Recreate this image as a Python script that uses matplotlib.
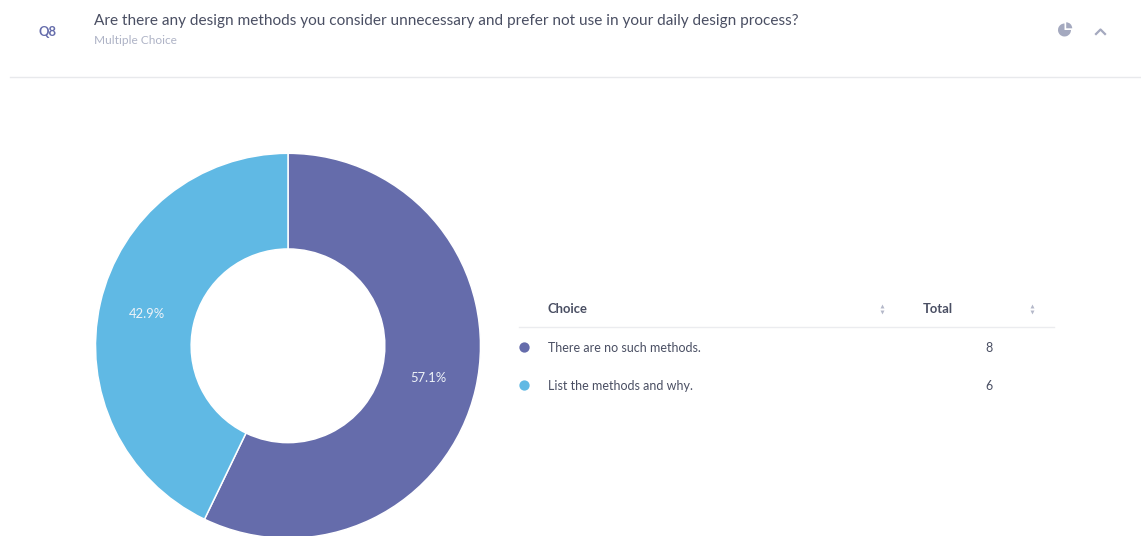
import matplotlib
matplotlib.use("Agg")
import matplotlib.pyplot as plt
from matplotlib.patches import Wedge

plt.rcParams['font.family'] = ['Lato', 'DejaVu Sans']

# data
question_id = "Q8"
question = "Are there any design methods you consider unnecessary and prefer not use in your daily design process?"
question_type = "Multiple Choice"
choices = ["There are no such methods.", "List the methods and why."]
totals = [8, 6]
colors = ["#656cab", "#60b9e4"]
table_headers = ["Choice", "Total"]

W, H = 1141, 536
fig = plt.figure(figsize=(W / 100, H / 100), dpi=100, facecolor="white")

# overlay in pixel coords
ax = fig.add_axes([0, 0, 1, 1])
ax.set_xlim(0, W)
ax.set_ylim(H, 0)
ax.axis("off")

# donut
pie_ax = fig.add_axes([95.5 / W, (H - 538.3) / H, 385 / W, 385 / H])
wedges, texts, autotexts = pie_ax.pie(
    totals, colors=colors, startangle=90, counterclock=False,
    radius=1, autopct="%.1f%%", pctdistance=0.75,
    wedgeprops=dict(width=0.497, edgecolor="white", linewidth=1.1),
    textprops=dict(color="#eef3f8", fontsize=9.4),
)
pie_ax.set_xlim(-1, 1)
pie_ax.set_ylim(-1, 1)

# header
ax.text(47.5, 31.5, question_id, color="#656cab", fontsize=9.4, fontweight="bold", ha="center", va="center")
ax.text(93.5, 20.5, question, color="#4a4f63", fontsize=11.08, va="center")
ax.text(93.5, 41, question_type, color="#aeb3c6", fontsize=8.55, va="center")
ax.plot([10, 1141], [77, 77], color="#e8e9ec", lw=1)

# pie icon, top right
ax.add_patch(Wedge((1064.5, 30), 6.5, 0, 270, fc="#a4a9bf", ec="none"))
ax.add_patch(Wedge((1066.2, 28.3), 6, 270, 360, fc="#a4a9bf", ec="none"))
# chevron
ax.plot([1096, 1100.5, 1105], [34, 29.5, 34], color="#a4a9bf", lw=1.6)

# table
ax.text(548, 309, table_headers[0], color="#4a4f63", fontsize=9.4, fontweight="bold", va="center")
ax.text(923, 309, table_headers[1], color="#4a4f63", fontsize=9.4, fontweight="bold", va="center")
ax.plot([519, 1054], [327, 327], color="#ebecef", lw=1)
for sx in [882, 1032]:
    ax.scatter([sx], [305.5], marker="^", s=8, color="#b4b8c9", linewidths=0)
    ax.scatter([sx], [311.5], marker="v", s=8, color="#b4b8c9", linewidths=0)

row_y = [348, 386]
for y, name, total, c in zip(row_y, choices, totals, colors):
    ax.scatter([524], [y - 1], s=55, color=c, linewidths=0)
    ax.text(548, y, name, color="#4a4f63", fontsize=9.0, va="center")
    ax.text(988.5, y, str(total), color="#4a4f63", fontsize=9.0, ha="center", va="center")

fig.savefig("out.png", dpi=100, facecolor="white")
